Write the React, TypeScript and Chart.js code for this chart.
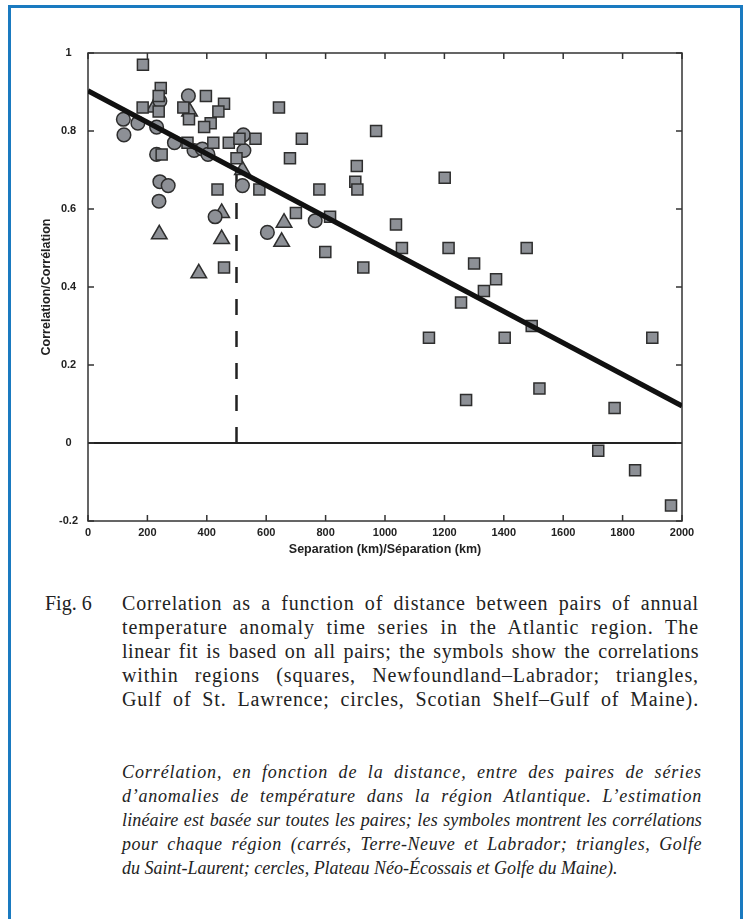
import React, { useEffect, useRef, useMemo } from 'react';
import { Chart, registerables } from 'chart.js';
Chart.register(...registerables);

// Squares: Newfoundland–Labrador
const squareX = [185, 245, 238, 397, 458, 184, 238, 321, 340, 439, 413, 391, 643, 335, 422, 474, 510, 564, 248, 500, 680, 720, 970, 905, 900, 907, 779, 577, 436, 1201, 700, 815, 1037, 458, 799, 1057, 1214, 927, 1300, 1374, 1333, 1256, 1477, 1403, 1494, 1900, 1148, 1520, 1273, 1773, 1718, 1842, 1963];
const squareY = [0.97, 0.91, 0.89, 0.89, 0.87, 0.86, 0.85, 0.86, 0.83, 0.85, 0.82, 0.81, 0.86, 0.77, 0.77, 0.77, 0.78, 0.78, 0.74, 0.73, 0.73, 0.78, 0.80, 0.71, 0.67, 0.65, 0.65, 0.65, 0.65, 0.68, 0.59, 0.58, 0.56, 0.45, 0.49, 0.50, 0.50, 0.45, 0.46, 0.42, 0.39, 0.36, 0.50, 0.27, 0.30, 0.27, 0.27, 0.14, 0.11, 0.09, -0.02, -0.07, -0.16];
// Triangles: Gulf of St. Lawrence
const triangleX = [223, 342, 520, 450, 240, 450, 660, 652, 373];
const triangleY = [0.86, 0.85, 0.70, 0.59, 0.535, 0.523, 0.565, 0.516, 0.435];
// Circles: Scotian Shelf–Gulf of Maine
const circleX = [338, 242, 119, 168, 231, 121, 291, 357, 385, 404, 231, 523, 525, 520, 242, 270, 239, 428, 604, 765];
const circleY = [0.89, 0.877, 0.83, 0.82, 0.81, 0.79, 0.77, 0.75, 0.754, 0.74, 0.74, 0.79, 0.75, 0.66, 0.67, 0.66, 0.62, 0.58, 0.54, 0.57];
// Linear fit and 500 km marker
const fitX = [0, 2000];
const fitY = [0.903, 0.095];
const refX = [500, 500];
const refY = [0, 0.70];

const xTickValues = [0, 200, 400, 600, 800, 1000, 1200, 1400, 1600, 1800, 2000];
const yTickLabels = ['-0.2', '0', '0.2', '0.4', '0.6', '0.8', '1'];

const captionEn = [
  'Correlation as a function of distance between pairs of annual',
  'temperature anomaly time series in the Atlantic region.  The',
  'linear fit is based on all pairs; the symbols show the correlations',
  'within regions (squares, Newfoundland–Labrador; triangles,',
  'Gulf of St. Lawrence; circles, Scotian Shelf–Gulf of Maine).',
];
const captionFr = [
  'Corrélation, en fonction de la distance,  entre des paires de séries',
  'd’anomalies de température dans la région Atlantique. L’estimation',
  'linéaire est basée sur toutes les paires; les symboles montrent les corrélations',
  'pour chaque région (carrés, Terre-Neuve et Labrador; triangles, Golfe',
  'du Saint-Laurent; cercles, Plateau Néo-Écossais et Golfe du Maine).',
];

const zip = (xs: number[], ys: number[]) => xs.map((x, i) => ({ x, y: ys[i] }));

const MARK_FILL = '#8d9096';
const MARK_EDGE = '#2e2e2e';
const SERIF = '"Liberation Serif", "Times New Roman", serif';

const framePlugin = {
  id: 'frameTicks',
  beforeDatasetsDraw(chart: any) {
    const { ctx, chartArea: a, scales } = chart;
    const xs = scales.x, ys = scales.y;
    ctx.save();
    ctx.strokeStyle = '#222';
    ctx.lineWidth = 2;
    const y0 = ys.getPixelForValue(0);
    ctx.beginPath();
    ctx.moveTo(a.left, y0);
    ctx.lineTo(a.right, y0);
    ctx.stroke();
    ctx.strokeStyle = '#333';
    ctx.lineWidth = 1.5;
    ctx.strokeRect(a.left, a.top, a.right - a.left, a.bottom - a.top);
    const L = 6;
    ctx.beginPath();
    xs.ticks.forEach((t: any) => {
      const px = xs.getPixelForValue(t.value);
      ctx.moveTo(px, a.bottom); ctx.lineTo(px, a.bottom - L);
      ctx.moveTo(px, a.top); ctx.lineTo(px, a.top + L);
    });
    ys.ticks.forEach((t: any) => {
      const py = ys.getPixelForValue(t.value);
      ctx.moveTo(a.left, py); ctx.lineTo(a.left + L, py);
      ctx.moveTo(a.right, py); ctx.lineTo(a.right - L, py);
    });
    ctx.stroke();
    ctx.restore();
  },
};

function ScatterChart() {
  const ref = useRef<HTMLCanvasElement | null>(null);
  useEffect(() => {
    if (!ref.current) return;
    const markerBase = {
      backgroundColor: MARK_FILL,
      borderColor: MARK_EDGE,
      borderWidth: 1.5,
      showLine: false,
    };
    const chart = new Chart(ref.current, {
      type: 'scatter',
      data: {
        datasets: [
          {
            label: 'fit',
            data: zip(fitX, fitY),
            showLine: true,
            borderColor: '#111',
            borderWidth: 5,
            pointRadius: 0,
          },
          { ...markerBase, label: 'squares', data: zip(squareX, squareY), pointStyle: 'rect', pointRadius: 7.8 },
          { ...markerBase, label: 'circles', data: zip(circleX, circleY), pointStyle: 'circle', pointRadius: 6.8 },
          { ...markerBase, label: 'triangles', data: zip(triangleX, triangleY), pointStyle: 'triangle', pointRadius: 9 },
          {
            label: '500 km',
            data: zip(refX, refY),
            showLine: true,
            borderColor: '#222',
            borderWidth: 2.5,
            borderDash: [16, 16],
            pointRadius: 0,
          },
        ],
      },
      options: {
        animation: false,
        responsive: false,
        layout: { padding: { left: 35, right: 62, top: 53, bottom: 9 } },
        plugins: { legend: { display: false }, tooltip: { enabled: false } },
        scales: {
          x: {
            type: 'linear',
            min: 0,
            max: 2000,
            afterBuildTicks: (s: any) => { s.ticks = xTickValues.map((v) => ({ value: v })); },
            afterFit: (s: any) => { s.height = 40; },
            grid: { display: false, drawTicks: false },
            border: { display: false },
            ticks: {
              padding: 5,
              color: '#222',
              font: { family: 'Liberation Sans, Arial, sans-serif', size: 11, weight: 'bold' },
              callback: (v: any) => String(v),
            },
            title: {
              display: true,
              text: 'Separation (km)/Séparation (km)',
              color: '#222',
              padding: { top: 4, bottom: 4 },
              font: { family: 'Liberation Sans, Arial, sans-serif', size: 12.5, weight: 'bold' },
            },
          },
          y: {
            type: 'linear',
            min: -0.2,
            max: 1,
            afterBuildTicks: (s: any) => { s.ticks = yTickLabels.map((l) => ({ value: Number(l) })); },
            afterFit: (s: any) => { s.width = 53; },
            grid: { display: false, drawTicks: false },
            border: { display: false },
            ticks: {
              padding: 10,
              crossAlign: 'center',
              color: '#222',
              font: { family: 'Liberation Sans, Arial, sans-serif', size: 11, weight: 'bold' },
              callback: (v: any) => {
                const m = yTickLabels.find((l) => Math.abs(Number(l) - v) < 1e-6);
                return m ?? '';
              },
            },
            title: {
              display: true,
              text: 'Correlation/Corrélation',
              color: '#222',
              padding: { top: 4, bottom: 4 },
              font: { family: 'Liberation Sans, Arial, sans-serif', size: 12.5, weight: 'bold' },
            },
          },
        },
      } as any,
      plugins: [framePlugin],
    });
    return () => chart.destroy();
  }, []);
  return (
    <canvas
      ref={ref}
      width={744}
      height={570}
      style={{ position: 'absolute', left: 0, top: 0, width: 744, height: 570 }}
    />
  );
}

// Spread part of the slack of each justified line as letter spacing, so word gaps stay moderate.
function useSpacing(lines: string[], font: string, width: number, share: number, lastFree: boolean) {
  return useMemo(() => {
    const c = document.createElement('canvas').getContext('2d');
    if (!c) return lines.map(() => 0);
    c.font = font;
    return lines.map((l, i) => {
      if (lastFree && i === lines.length - 1) return 0;
      const w = c.measureText(l.replace(/\s+/g, ' ')).width;
      const slack = width - w;
      if (slack <= 0) return 0;
      return (slack * share) / Math.max(1, l.length - 1);
    });
  }, [lines, font, width, share, lastFree]);
}

export default function App() {
  const enSpacing = useSpacing(captionEn, `20px ${SERIF}`, 577, 0.55, false);
  const frSpacing = useSpacing(captionFr, `italic 18px ${SERIF}`, 580, 0.55, true);
  return (
    <div style={{ position: 'absolute', left: 0, top: 0, width: 744, height: 919, overflow: 'hidden', background: '#fff' }}>
      <div
        style={{
          position: 'absolute', left: 8, top: 5, width: 729, height: 960,
          border: '3px solid #1a7ac0', boxSizing: 'content-box',
        }}
      />
      <ScatterChart />
      <div style={{ position: 'absolute', left: 45, top: 591, fontFamily: SERIF, fontSize: 20, lineHeight: '24px', color: '#222' }}>
        Fig. 6
      </div>
      <div style={{ position: 'absolute', left: 122, top: 591, width: 577, fontFamily: SERIF, fontSize: 20, lineHeight: '24px', color: '#222' }}>
        {captionEn.map((l, i) => (
          <div key={i} style={{ textAlign: 'justify', textAlignLast: 'justify', whiteSpace: 'nowrap', letterSpacing: enSpacing[i] }}>{l}</div>
        ))}
      </div>
      <div style={{ position: 'absolute', left: 122, top: 760, width: 580, fontFamily: SERIF, fontStyle: 'italic', fontSize: 18, lineHeight: '24px', color: '#222' }}>
        {captionFr.map((l, i) => (
          <div key={i} style={{ textAlign: 'justify', textAlignLast: i === captionFr.length - 1 ? 'left' : 'justify', whiteSpace: 'nowrap', letterSpacing: frSpacing[i] }}>{l}</div>
        ))}
      </div>
    </div>
  );
}
